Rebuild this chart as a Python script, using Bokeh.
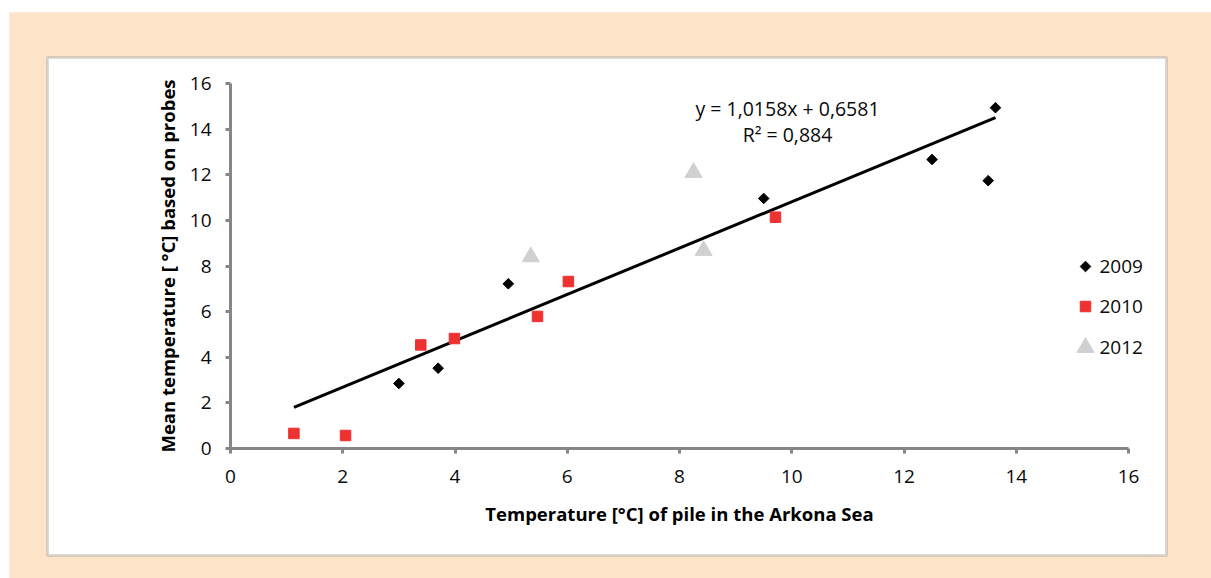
import numpy as np
from bokeh.plotting import figure
from bokeh.models import Range1d, BoxAnnotation, LinearAxis
from bokeh.core.properties import value
from bokeh.embed import file_html
from bokeh.resources import INLINE

# ---- data ----
x2009 = [3.0, 3.7, 4.95, 9.5, 12.5, 13.5, 13.63]
y2009 = [2.85, 3.52, 7.22, 10.96, 12.67, 11.74, 14.94]
x2010 = [1.13, 2.05, 3.39, 3.99, 5.47, 6.02, 9.71]
y2010 = [0.66, 0.57, 4.54, 4.82, 5.79, 7.32, 10.14]
x2012 = [5.35, 8.25, 8.43]
y2012 = [8.4, 12.1, 8.68]
slope = 1.0158
intercept = 0.6581
eq_text = "y = 1,0158x + 0,6581"
r2_text = "R\u00b2 = 0,884"
x_ticks = [0, 2, 4, 6, 8, 10, 12, 14, 16]
y_ticks = [0, 2, 4, 6, 8, 10, 12, 14, 16]
series_names = ["2009", "2010", "2012"]
x_label = "Temperature [\u00b0C] of pile in the Arkona Sea"
y_label = "Mean temperature [ \u00b0C] based on probes"

# ---- layout (pixels) ----
W, H = 1211, 578
AX_LEFT, AX_RIGHT = 230, 1128      # pixel x of 0 and 16
AX_BOTTOM, AX_TOP = 448, 83        # pixel y of 0 and 16
ppx = (AX_RIGHT - AX_LEFT) / 16.0
ppy = (AX_BOTTOM - AX_TOP) / 16.0


def dx(px):
    return (px - AX_LEFT) / ppx


def dy(py):
    return (AX_BOTTOM - py) / ppy


FONT = "Open Sans"
GRAY = "#868686"
TXT = "#0a0a0a"

p = figure(width=W, height=H, output_backend="svg", toolbar_location=None,
           x_range=Range1d(dx(0), dx(W)), y_range=Range1d(dy(H), dy(0)),
           min_border=0, x_axis_location=None, y_axis_location=None)
p.border_fill_color = "white"
p.background_fill_color = "white"
p.outline_line_color = None
p.grid.visible = False

# peach frame and white chart box (canvas pixel units)
peach = BoxAnnotation(left=9, right=W, top=12, bottom=H,
                      left_units="canvas", right_units="canvas", top_units="canvas", bottom_units="canvas",
                      fill_color="#FDE4C9", fill_alpha=1, line_color="#F7D3CC", line_width=1, level="underlay")
box = BoxAnnotation(left=47, right=1166, top=57, bottom=555,
                    left_units="canvas", right_units="canvas", top_units="canvas", bottom_units="canvas",
                    fill_color="white", fill_alpha=1, line_color=GRAY, line_width=3, level="underlay")
p.add_layout(peach)
p.add_layout(box)

xaxis = LinearAxis(fixed_location=0, bounds=(0, 16), axis_label=x_label)
yaxis = LinearAxis(fixed_location=0, bounds=(0, 16), axis_label=y_label)
p.add_layout(xaxis, "below")
p.add_layout(yaxis, "left")
for ax in (xaxis, yaxis):
    ax.axis_line_color = GRAY
    ax.axis_line_width = 3
    ax.major_tick_line_color = GRAY
    ax.major_tick_line_width = 3
    ax.major_tick_out = 5
    ax.major_tick_in = 0
    ax.minor_tick_line_color = None
    ax.major_label_text_font = FONT
    ax.major_label_text_font_size = "19px"
    ax.major_label_text_color = TXT
    ax.axis_label_text_font = FONT
    ax.axis_label_text_font_style = "bold"
    ax.axis_label_text_font_size = "18.5px"
    ax.axis_label_text_color = "black"
xaxis.ticker = x_ticks
yaxis.ticker = y_ticks
xaxis.major_label_standoff = 16
yaxis.major_label_standoff = 14
xaxis.axis_label_standoff = 15
yaxis.axis_label_standoff = 7

# trend line across data range
all_x = x2009 + x2010 + x2012
lx = np.array([min(all_x), max(all_x)])
ly = slope * lx + intercept
p.line(lx, ly, line_color="black", line_width=3)

m09 = dict(marker="square", angle=np.pi / 4, size=7.5, fill_color="black", line_color="black")
m10 = dict(marker="square", size=10.5, fill_color="#EE3131", line_color="#EE3131")
m12 = dict(marker="triangle", size=17, fill_color="#D0D0D2", line_color="#D0D0D2")
p.scatter(x2009, y2009, **m09)
p.scatter(x2010, y2010, **m10)
p.scatter(x2012, y2012, **m12)

p.text(x=[dx(787)], y=[dy(108)], text=[eq_text], text_align="center", text_baseline="middle",
       text_font=value(FONT), text_font_size="19.5px", text_color=TXT)
p.text(x=[dx(787)], y=[dy(134)], text=[r2_text], text_align="center", text_baseline="middle",
       text_font=value(FONT), text_font_size="19.5px", text_color=TXT)

# legend (drawn outside the axes, right side)
leg_rows = [266, 306, 347]
for name, style, row in zip(series_names, (m09, m10, m12), leg_rows):
    p.scatter([dx(1085)], [dy(row)], **style)
    p.text(x=[dx(1099)], y=[dy(row)], text=[name], text_align="left", text_baseline="middle",
           text_font=value(FONT), text_font_size="19px", text_color=TXT)

open("out.html", "w").write(file_html(p, INLINE))
